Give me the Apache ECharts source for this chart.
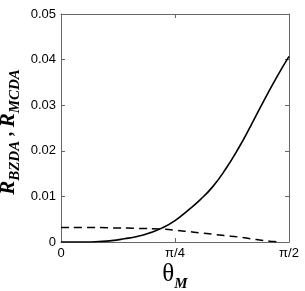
<!DOCTYPE html>
<html><head><meta charset="utf-8">
<script src="https://cdn.jsdelivr.net/npm/echarts@6/dist/echarts.min.js"></script>
<style>html,body{margin:0;padding:0;background:#fff}#c{width:305px;height:291px}</style>
</head><body><div id="c"></div>
<script>
// x in degrees (0..90 = 0..π/2)
const thetaDeg = [0,5,10,15,20,25,30,35,40,45,50,55,60,65,70,75,80,85,90];
const rBZDA = [0,0,0,0.0001,0.0003,0.0007,0.0012,0.002,0.0031,0.0047,0.0069,0.0093,0.0122,0.0160,0.0205,0.0256,0.0309,0.0360,0.0407];
const dashX = [0,10,20,30,40,45,50,55,60,65,70,75,80,84,86];
const rMCDA = [0.0032,0.0032,0.0031,0.0030,0.0028,0.0026,0.0023,0.0020,0.0017,0.0014,0.0011,0.0007,0.0003,0.0001,0];
const xTickLabels = {0:'0',45:'π/4',90:'π/2'};

const chart = echarts.init(document.getElementById('c'));
const axisColor = '#666';
const tickFont = {fontFamily:'Liberation Sans, Arial, sans-serif', fontSize:13, color:'#000'};
const serif = 'Liberation Serif, Times New Roman, serif';
chart.setOption({
  animation:false,
  grid:{left:61,right:16,top:14,bottom:49,containLabel:false,outerBoundsMode:'none'},
  xAxis:[{
    type:'value',min:0,max:90,interval:45,position:'bottom',
    axisLine:{onZero:false,lineStyle:{color:axisColor,width:1}},
    axisTick:{inside:true,length:4,lineStyle:{color:axisColor}},
    splitLine:{show:false},
    axisLabel:Object.assign({formatter:v=>xTickLabels[v]||'',margin:5},tickFont),
    name:'{t|θ}{s|M}',nameLocation:'middle',nameGap:20,nameMoveOverlap:false,
    nameTextStyle:{rich:{
      t:{fontFamily:serif,fontSize:25,color:'#000',lineHeight:25,verticalAlign:'top'},
      s:{fontFamily:serif,fontSize:15,fontWeight:'bold',fontStyle:'italic',color:'#000',lineHeight:30,verticalAlign:'bottom'}
    }}
  },{
    type:'value',min:0,max:90,interval:45,position:'top',
    axisLine:{onZero:false,lineStyle:{color:axisColor,width:1}},
    axisTick:{inside:true,length:4,lineStyle:{color:axisColor}},
    axisLabel:{show:false},splitLine:{show:false}
  }],
  yAxis:[{
    type:'value',min:0,max:0.05,interval:0.01,position:'left',
    axisLine:{show:true,onZero:false,lineStyle:{color:axisColor,width:1}},
    axisTick:{show:true,inside:true,length:4,lineStyle:{color:axisColor}},
    splitLine:{show:false},
    axisLabel:Object.assign({formatter:v=>String(+v.toFixed(2)),margin:5},tickFont),
    name:'{r|R}{s|BZDA}{c| , }{r|R}{e|MCDA}',nameLocation:'middle',nameGap:38,nameRotate:90,nameMoveOverlap:false,
    nameTextStyle:{rich:{
      r:{fontFamily:serif,fontSize:21,fontWeight:'bold',fontStyle:'italic',color:'#000',lineHeight:21,verticalAlign:'top'},
      c:{fontFamily:serif,fontSize:18,fontWeight:'bold',color:'#000',lineHeight:21,verticalAlign:'top'},
      s:{fontFamily:serif,fontSize:15,fontWeight:'bold',fontStyle:'italic',color:'#000',lineHeight:25,verticalAlign:'bottom'},
      e:{fontFamily:serif,fontSize:15,fontWeight:'bold',fontStyle:'italic',color:'#000',lineHeight:25,verticalAlign:'bottom',padding:[0,8,0,0]}
    }}
  },{
    type:'value',min:0,max:0.05,interval:0.01,position:'right',
    axisLine:{show:true,onZero:false,lineStyle:{color:axisColor,width:1}},
    axisTick:{show:true,inside:true,length:4,lineStyle:{color:axisColor}},
    axisLabel:{show:false},splitLine:{show:false}
  }],
  series:[{
    type:'line',xAxisIndex:0,yAxisIndex:0,showSymbol:false,smooth:true,
    data:thetaDeg.map((x,i)=>[x,rBZDA[i]]),
    lineStyle:{color:'#000',width:1.6}
  },{
    type:'line',xAxisIndex:0,yAxisIndex:0,showSymbol:false,smooth:true,
    data:dashX.map((x,i)=>[x,rMCDA[i]]),
    lineStyle:{color:'#000',width:1.5,type:[8,5]}
  }]
});
</script></body></html>
